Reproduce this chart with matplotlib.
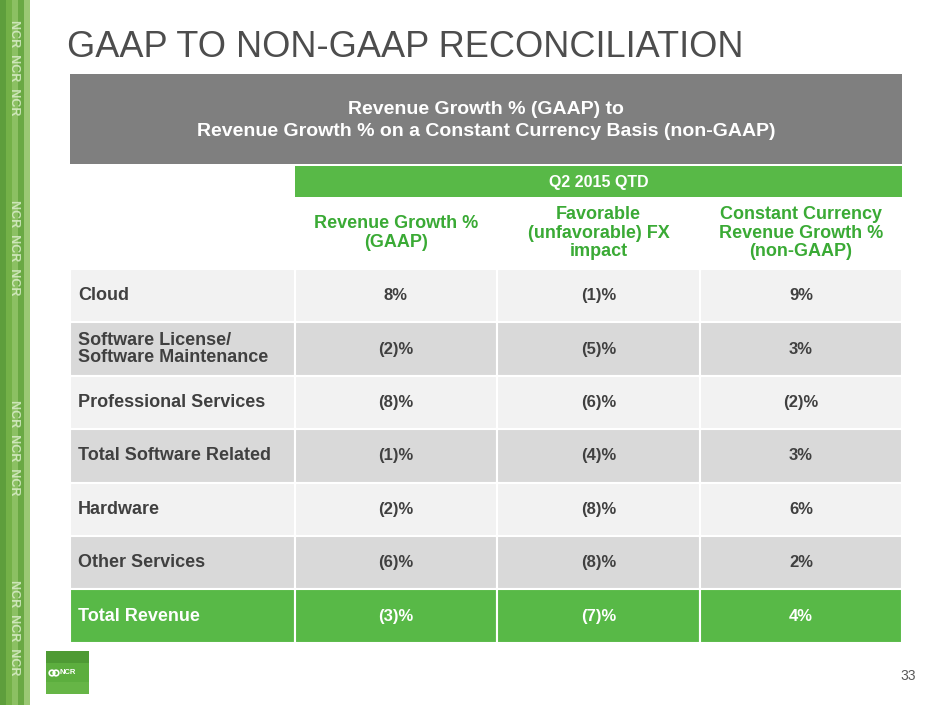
import matplotlib
matplotlib.use("Agg")
import matplotlib.pyplot as plt
from matplotlib.patches import Rectangle, Circle
import numpy as np

plt.rcParams['font.family'] = ['Liberation Sans', 'DejaVu Sans']

# ---- data ----
title = "GAAP TO NON-GAAP RECONCILIATION"
table_title = ["Revenue Growth % (GAAP) to",
               "Revenue Growth % on a Constant Currency Basis (non-GAAP)"]
period = "Q2 2015 QTD"
col_headers = ["Revenue Growth %\n(GAAP)",
               "Favorable\n(unfavorable) FX\nimpact",
               "Constant Currency\nRevenue Growth %\n(non-GAAP)"]
categories = ["Cloud", "Software License/\nSoftware Maintenance",
              "Professional Services", "Total Software Related",
              "Hardware", "Other Services", "Total Revenue"]
gaap_growth = ["8%", "(2)%", "(8)%", "(1)%", "(2)%", "(6)%", "(3)%"]
fx_impact = ["(1)%", "(5)%", "(6)%", "(4)%", "(8)%", "(8)%", "(7)%"]
cc_growth = ["9%", "3%", "(2)%", "3%", "6%", "2%", "4%"]
page_no = "33"

# ---- layout ----
W, H = 940, 705
fig = plt.figure(figsize=(W / 100, H / 100), dpi=100)
ax = fig.add_axes([0, 0, 1, 1])
ax.set_xlim(0, W)
ax.set_ylim(H, 0)
ax.axis('off')

GREEN = "#58b947"
GREEN_TXT = "#3aaa35"
GRAY_BOX = "#7f7f7f"
LIGHT = "#f2f2f2"
DARK = "#d9d9d9"
TXT = "#404040"

col_edges = [70, 295, 497, 700, 902]
row_top = 269
row_h = 53.4

# left decorative strip
strip_cols = ["#5e9e3c", "#74b148", "#8cc063", "#6aa944", "#9bc874"]
for i, c in enumerate(strip_cols):
    ax.add_patch(Rectangle((i * 6, 0), 6, H, color=c, lw=0, zorder=0))
for yy in [20, 200, 400, 580]:
    ax.text(14, yy, "NCR  NCR  NCR", rotation=-90, color="#dff0cf",
            fontsize=9, fontweight='bold', ha='center', va='top', alpha=0.8)

# title
ax.text(67, 57, title, fontsize=26, color="#4d4d4d", ha='left', va='baseline')

# gray table title box
ax.add_patch(Rectangle((70, 74), 832, 90, color=GRAY_BOX, lw=0))
ax.text(486, 110, table_title[0], fontsize=14, fontweight='bold',
        color='white', ha='center', va='center')
ax.text(486, 132, table_title[1], fontsize=14, fontweight='bold',
        color='white', ha='center', va='center')

# period header
ax.add_patch(Rectangle((col_edges[1], 166), col_edges[-1] - col_edges[1], 31,
                       color=GREEN, lw=0))
ax.text((col_edges[1] + col_edges[-1]) / 2, 182, period, fontsize=11.5,
        fontweight='bold', color='white', ha='center', va='center')

# column headers
for j, h in enumerate(col_headers):
    cx = (col_edges[j + 1] + col_edges[j + 2]) / 2
    ax.text(cx, 233, h, fontsize=13, fontweight='bold', color=GREEN_TXT,
            ha='center', va='center', linespacing=1.12)

# data rows
cols = [gaap_growth, fx_impact, cc_growth]
for i, cat in enumerate(categories):
    y0 = row_top + i * row_h
    last = i == len(categories) - 1
    fc = GREEN if last else (LIGHT if i % 2 == 0 else DARK)
    tc = 'white' if last else TXT
    for j in range(4):
        ax.add_patch(Rectangle((col_edges[j], y0), col_edges[j + 1] - col_edges[j],
                               row_h, facecolor=fc, edgecolor='white', lw=1.5))
    ax.text(78, y0 + row_h / 2, cat, fontsize=13, fontweight='bold', color=tc,
            ha='left', va='center', linespacing=0.96)
    for j, vals in enumerate(cols):
        cx = (col_edges[j + 1] + col_edges[j + 2]) / 2
        ax.text(cx, y0 + row_h / 2, vals[i], fontsize=12, fontweight='bold',
                color=tc, ha='center', va='center')

# logo
ax.add_patch(Rectangle((46, 651), 43, 43, color="#5cae3e", lw=0))
ax.add_patch(Rectangle((46, 651), 43, 12, color="#4e9a34", lw=0))
ax.add_patch(Rectangle((46, 682), 43, 12, color="#66b546", lw=0))
ax.add_patch(Circle((52, 673), 2.8, fill=False, ec='white', lw=1.2))
ax.add_patch(Circle((56, 673), 2.8, fill=False, ec='white', lw=1.2))
ax.text(60, 673, "NCR", fontsize=5.5, fontweight='bold', color='white',
        ha='left', va='center')

# page number
ax.text(916, 676, page_no, fontsize=10, color="#595959", ha='right', va='center')

fig.savefig("out.png", dpi=100)
